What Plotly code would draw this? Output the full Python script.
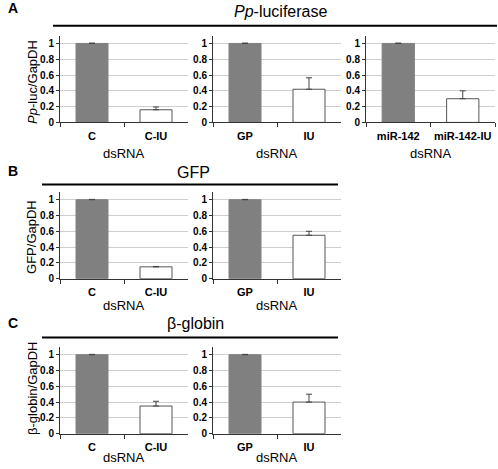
import plotly.graph_objects as go

W, H = 498, 469
FONT = "Liberation Sans, Arial, sans-serif"

# ---------------- data ----------------
a_cats = [["C", "C-IU"], ["GP", "IU"], ["miR-142", "miR-142-IU"]]
a_vals = [[1.0, 0.16], [1.0, 0.42], [1.0, 0.30]]
a_errs = [[0.004, 0.035], [0.004, 0.145], [0.004, 0.10]]

b_cats = [["C", "C-IU"], ["GP", "IU"]]
b_vals = [[1.0, 0.15], [1.0, 0.55]]
b_errs = [[0.004, 0.005], [0.004, 0.05]]

c_cats = [["C", "C-IU"], ["GP", "IU"]]
c_vals = [[1.0, 0.35], [1.0, 0.40]]
c_errs = [[0.004, 0.06], [0.004, 0.10]]

y_tickvals = [0, 0.2, 0.4, 0.6, 0.8, 1]
y_ticktext = ["0", "0.2", "0.4", "0.6", "0.8", "1"]
x_title = "dsRNA"
titles = ["<i>Pp</i>-luciferase", "GFP", "β-globin"]
y_titles = ["<i>Pp</i>-luc/GapDH", "GFP/GapDH", "β-globin/GapDH"]
letters = ["A", "B", "C"]

# ---------------- layout helpers (pixel -> paper) ----------------
def fx(p):
    return p / W

def fy(p):
    return 1 - p / H

# x pixel domains of the three panel columns
xcols = [(60, 188), (213, 341), (366, 495)]
# y pixel positions: (pixel of value 0, pixel of value 1.1)
yrows = [(124, 36), (282.3, 194.3), (439.3, 351.3)]

panels = []
for j in range(3):
    panels.append((0, j, a_cats[j], a_vals[j], a_errs[j]))
for j in range(2):
    panels.append((1, j, b_cats[j], b_vals[j], b_errs[j]))
for j in range(2):
    panels.append((2, j, c_cats[j], c_vals[j], c_errs[j]))

fig = go.Figure()
layout = {}
bar_fill = ["#808080", "#ffffff"]
bar_line = ["#808080", "#555555"]

for k, (r, j, cats, vals, errs) in enumerate(panels, start=1):
    xn = "x" if k == 1 else f"x{k}"
    yn = "y" if k == 1 else f"y{k}"
    fig.add_trace(go.Bar(
        x=cats, y=vals, xaxis=xn, yaxis=yn,
        marker=dict(color=bar_fill, line=dict(color=bar_line, width=1)),
        error_y=dict(type="data", array=errs, arrayminus=[0, 0], symmetric=False,
                     color="#444444", thickness=1, width=3),
        showlegend=False, hoverinfo="skip",
    ))
    x0, x1 = xcols[j]
    y0, y1 = yrows[r]
    xa = "xaxis" if k == 1 else f"xaxis{k}"
    ya = "yaxis" if k == 1 else f"yaxis{k}"
    layout[xa] = dict(
        domain=[fx(x0), fx(x1)], anchor=yn, type="category", range=[-0.5, 1.5],
        showline=True, linecolor="#333333", linewidth=1,
        ticks="outside", tickson="boundaries", ticklen=4, tickcolor="#333333",
        tickangle=0, ticklabelstandoff=3,
        tickfont=dict(family=FONT, size=11, color="black", weight="bold"),
        showgrid=False, zeroline=False, fixedrange=True,
    )
    layout[ya] = dict(
        domain=[fy(y0), fy(y1)], anchor=xn, range=[0, 1.1],
        tickvals=y_tickvals, ticktext=y_ticktext,
        showline=True, linecolor="#333333", linewidth=1,
        ticks="outside", ticklen=3, tickcolor="#333333",
        tickfont=dict(family=FONT, size=10, color="black", weight="bold"),
        showgrid=True, gridcolor="#cfcfcf", gridwidth=1,
        zeroline=False, fixedrange=True,
    )

annotations = []
# dsRNA labels under each panel
label_y = [155, 309, 463]
for k, (r, j, cats, vals, errs) in enumerate(panels, start=1):
    x0, x1 = xcols[j]
    annotations.append(dict(x=fx((x0 + x1) / 2), y=fy(label_y[r]), xref="paper", yref="paper",
                            text=x_title, showarrow=False, xanchor="center", yanchor="middle",
                            font=dict(family=FONT, size=13, color="black")))

# panel letters
letter_y = [8, 173, 327]
for r in range(3):
    annotations.append(dict(x=fx(6), y=fy(letter_y[r]), xref="paper", yref="paper",
                            text=f"<b>{letters[r]}</b>", showarrow=False,
                            xanchor="left", yanchor="middle",
                            font=dict(family=FONT, size=14, color="black")))

# group titles
title_pos = [(280, 12), (193, 175), (195, 328)]
for r in range(3):
    annotations.append(dict(x=fx(title_pos[r][0]), y=fy(title_pos[r][1]), xref="paper", yref="paper",
                            text=titles[r], showarrow=False, xanchor="center", yanchor="middle",
                            font=dict(family=FONT, size=16, color="black")))

# y-axis titles
ytitle_pos = [(33, 83), (32, 240), (33, 394)]
for r in range(3):
    annotations.append(dict(x=fx(ytitle_pos[r][0]), y=fy(ytitle_pos[r][1]), xref="paper", yref="paper",
                            text=y_titles[r], showarrow=False, textangle=-90,
                            xanchor="center", yanchor="middle",
                            font=dict(family=FONT, size=13, color="black")))

# rules under group titles
rules = [(53, 497, 26), (42, 338, 187), (42, 338, 342)]
shapes = []
for (a, b, y) in rules:
    shapes.append(dict(type="line", xref="paper", yref="paper",
                       x0=fx(a), x1=fx(b), y0=fy(y), y1=fy(y),
                       line=dict(color="black", width=2)))

fig.update_layout(
    width=W, height=H, margin=dict(l=0, r=0, t=0, b=0),
    paper_bgcolor="white", plot_bgcolor="white",
    bargap=0.5, showlegend=False, hovermode=False,
    annotations=annotations, shapes=shapes,
    font=dict(family=FONT, color="black"),
    **layout,
)

fig.write_html("out.html",
               config={"displayModeBar": False, "staticPlot": True},
               post_script="document.body.style.margin='0';document.body.style.overflow='hidden';")
